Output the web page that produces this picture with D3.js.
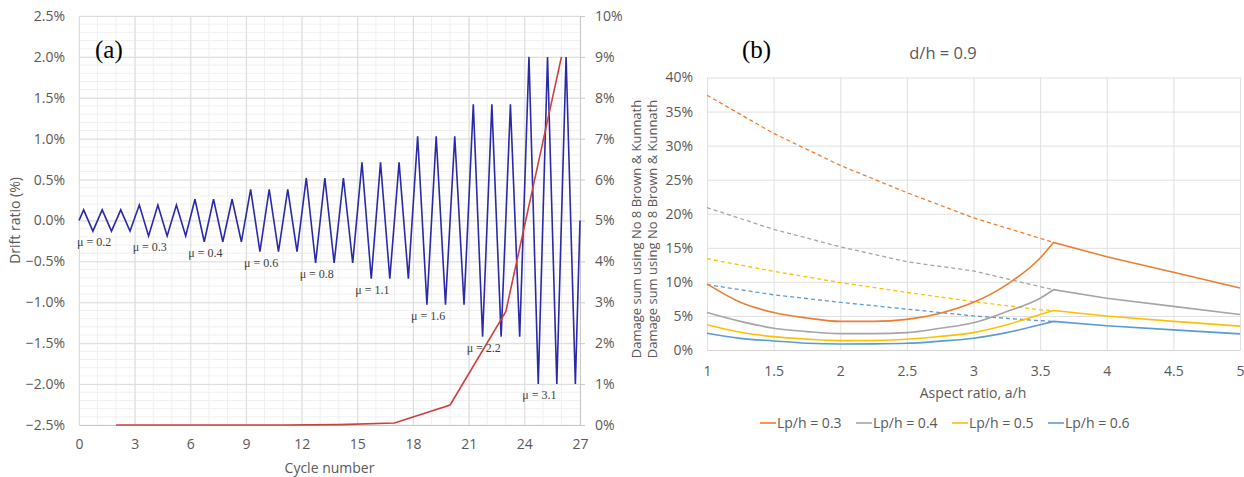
<html>
<head>
<meta charset="utf-8">
<script src="https://d3js.org/d3.v7.min.js"></script>
<style>
  body { margin: 0; background: #fff; }
  svg text { font-family: "Open Sans", sans-serif; }
</style>
</head>
<body>
<svg id="chart" width="1244" height="477"></svg>
<script>

// ---- chart (a): loading protocol ----
const cycleTicks = [0, 3, 6, 9, 12, 15, 18, 21, 24, 27];
const driftTicks = [-2.5, -2, -1.5, -1, -0.5, 0, 0.5, 1, 1.5, 2, 2.5];
const damageTicks = [0, 1, 2, 3, 4, 5, 6, 7, 8, 9, 10];
const muLabels = ["0.2", "0.3", "0.4", "0.6", "0.8", "1.1", "1.6", "2.2", "3.1"];
// drift amplitude (%) of each of the 27 cycles
const cycleAmp = [0.13, 0.13, 0.13, 0.19, 0.19, 0.19, 0.26, 0.26, 0.26,
                  0.38, 0.38, 0.38, 0.52, 0.52, 0.52, 0.71, 0.71, 0.71,
                  1.03, 1.03, 1.03, 1.42, 1.42, 1.42, 2.0, 2.0, 2.0];
// cumulative damage (%) at the end of each level
const damageCycle = [2, 5, 8, 11, 14, 17, 20, 23, 26];
const damageValue = [0, 0, 0, 0, 0.01, 0.05, 0.49, 2.77, 9.0];

// ---- chart (b): damage sum vs aspect ratio ----
const aspectTicks = [1, 1.5, 2, 2.5, 3, 3.5, 4, 4.5, 5];
const damageSumTicks = [0, 5, 10, 15, 20, 25, 30, 35, 40];
const lpLabels = ["Lp/h = 0.3", "Lp/h = 0.4", "Lp/h = 0.5", "Lp/h = 0.6"];
const aspect = [1, 1.25, 1.5, 1.75, 2, 2.25, 2.5, 2.75, 3, 3.25, 3.5, 3.6, 4, 4.5, 5];
const lp03 = [9.7, 7.0, 5.5, 4.7, 4.2, 4.2, 4.5, 5.4, 7.0, 9.6, 13.5, 15.8, 13.7, 11.4, 9.1];
const lp04 = [5.5, 4.2, 3.2, 2.7, 2.4, 2.4, 2.55, 3.2, 4.0, 5.65, 7.6, 8.85, 7.6, 6.4, 5.2];
const lp05 = [3.7, 2.6, 1.96, 1.6, 1.37, 1.4, 1.57, 2.0, 2.55, 3.7, 5.2, 5.8, 5.0, 4.2, 3.5];
const lp06 = [2.45, 1.7, 1.33, 1.0, 0.88, 0.9, 0.98, 1.3, 1.72, 2.55, 3.7, 4.2, 3.55, 2.95, 2.36];
const aspectDash = [1, 1.5, 2, 2.5, 3, 3.5, 3.6];
const lp03d = [37.4, 31.8, 27.1, 23.1, 19.4, 16.4, 15.8];
const lp04d = [20.9, 17.7, 15.15, 12.95, 11.6, 9.3, 8.85];
const lp05d = [13.4, 11.55, 9.9, 8.45, 7.1, 5.9, 5.8];
const lp06d = [9.6, 8.1, 7.0, 6.0, 5.0, 4.3, 4.2];
const peakAspect = 3.6;
const yTitle = "Damage sum using No 8 Brown & Kunnath";

const svg = d3.select("#chart");
const axisGrey = "#595959";

// ================= chart (a) =================
let x = d3.scaleLinear().domain([0, 27]).range([79, 580]);
let y = d3.scaleLinear().domain([-2.5, 2.5]).range([425, 16]);
let y2 = d3.scaleLinear().domain([0, 10]).range([425, 16]);

let ga = svg.append("g");

// minor grid
ga.append("g").selectAll("line")
  .data(d3.range(0, 28))
  .enter().append("line")
  .attr("x1", d => x(d)).attr("x2", d => x(d))
  .attr("y1", y(2.5)).attr("y2", y(-2.5))
  .attr("stroke", "#f0f0f0");
ga.append("g").selectAll("line")
  .data(d3.range(-25, 26).map(d => d / 10))
  .enter().append("line")
  .attr("x1", x(0)).attr("x2", x(27))
  .attr("y1", d => y(d)).attr("y2", d => y(d))
  .attr("stroke", "#f0f0f0");

// major grid
ga.append("g")
  .attr("transform", `translate(0,${y(-2.5)})`)
  .call(d3.axisBottom(x).tickValues(cycleTicks).tickSize(-(y(-2.5) - y(2.5))).tickFormat(""))
  .call(g => g.select(".domain").remove())
  .call(g => g.selectAll("line").attr("stroke", "#dcdcdc"));
ga.append("g")
  .attr("transform", `translate(${x(0)},0)`)
  .call(d3.axisLeft(y).tickValues(driftTicks).tickSize(-(x(27) - x(0))).tickFormat(""))
  .call(g => g.select(".domain").remove())
  .call(g => g.selectAll("line").attr("stroke", "#dcdcdc"));

// x axis
ga.append("g")
  .attr("transform", `translate(0,${y(-2.5)})`)
  .call(d3.axisBottom(x).tickValues(cycleTicks).tickSize(0).tickPadding(14))
  .call(g => g.select(".domain").attr("stroke", "#c8c8c8"))
  .call(g => g.selectAll("text").attr("fill", axisGrey).style("font-size", "14px"));

// left y axis
ga.append("g")
  .attr("transform", `translate(${x(0)},0)`)
  .call(d3.axisLeft(y).tickValues(driftTicks).tickSize(0).tickPadding(14)
    .tickFormat(d => d3.format(".1f")(d) + "%"))
  .call(g => g.select(".domain").attr("stroke", "#dcdcdc"))
  .call(g => g.selectAll("text").attr("fill", axisGrey).style("font-size", "14px"));

// right y axis
ga.append("g")
  .attr("transform", `translate(${x(27)},0)`)
  .call(d3.axisRight(y2).tickValues(damageTicks).tickSize(5).tickPadding(10)
    .tickFormat(d => d + "%"))
  .call(g => g.select(".domain").attr("stroke", "#c8c8c8"))
  .call(g => g.selectAll("line").attr("stroke", "#c8c8c8"))
  .call(g => g.selectAll("text").attr("fill", axisGrey).style("font-size", "14px"));

// drift history
let zig = [[0, 0]];
cycleAmp.forEach((a, i) => {
  zig.push([i + 0.25, a]);
  zig.push([i + 0.75, -a]);
});
zig.push([27, 0]);

ga.append("path")
  .datum(zig)
  .attr("fill", "none")
  .attr("stroke", "#2a2aa8")
  .attr("stroke-width", 1.6)
  .attr("d", d3.line().x(d => x(d[0])).y(d => y(d[1])));

// damage
ga.append("path")
  .datum(damageCycle.map((c, i) => [c, damageValue[i]]))
  .attr("fill", "none")
  .attr("stroke", "#cf3f3f")
  .attr("stroke-width", 1.6)
  .attr("d", d3.line().x(d => x(d[0])).y(d => y2(d[1])));

// mu labels
ga.selectAll(".mu")
  .data(muLabels)
  .enter().append("text")
  .attr("class", "mu")
  .attr("x", (d, i) => x(i * 3) - 2)
  .attr("y", (d, i) => y(-cycleAmp[i * 3]) + 15)
  .attr("fill", "#404040")
  .style("font-family", "'Liberation Serif', serif")
  .style("font-size", "12px")
  .text(d => "\u03bc = " + d);

ga.append("text")
  .attr("x", 95).attr("y", 58)
  .style("font-family", "'Liberation Serif', serif")
  .style("font-size", "25px")
  .attr("fill", "#000")
  .text("(a)");

ga.append("text")
  .attr("transform", `translate(20,${(y(2.5) + y(-2.5)) / 2}) rotate(-90)`)
  .attr("text-anchor", "middle")
  .attr("fill", axisGrey)
  .style("font-size", "14px")
  .text("Drift ratio (%)");

ga.append("text")
  .attr("x", (x(0) + x(27)) / 2).attr("y", 473)
  .attr("text-anchor", "middle")
  .attr("fill", axisGrey)
  .style("font-size", "14px")
  .text("Cycle number");

// ================= chart (b) =================
let xb = d3.scaleLinear().domain([1, 5]).range([707, 1240]);
let yb = d3.scaleLinear().domain([0, 40]).range([350, 77.5]);

let gb = svg.append("g");

gb.append("g")
  .attr("transform", `translate(0,${yb(0)})`)
  .call(d3.axisBottom(xb).tickValues(aspectTicks).tickSize(-(yb(0) - yb(40))).tickFormat(""))
  .call(g => g.select(".domain").remove())
  .call(g => g.selectAll("line").attr("stroke", "#e0e0e0"));
gb.append("g")
  .attr("transform", `translate(${xb(1)},0)`)
  .call(d3.axisLeft(yb).tickValues(damageSumTicks).tickSize(-(xb(5) - xb(1))).tickFormat(""))
  .call(g => g.select(".domain").remove())
  .call(g => g.selectAll("line").attr("stroke", "#e0e0e0"));

gb.append("g")
  .attr("transform", `translate(0,${yb(0)})`)
  .call(d3.axisBottom(xb).tickValues(aspectTicks).tickSize(0).tickPadding(16).tickFormat(d3.format("")))
  .call(g => g.select(".domain").attr("stroke", "#d4d4d4"))
  .call(g => g.selectAll("text").attr("fill", axisGrey).style("font-size", "14px"));

gb.append("g")
  .attr("transform", `translate(${xb(1)},0)`)
  .call(d3.axisLeft(yb).tickValues(damageSumTicks).tickSize(0).tickPadding(14).tickFormat(d => d + "%"))
  .call(g => g.select(".domain").remove())
  .call(g => g.selectAll("text").attr("fill", axisGrey).style("font-size", "14px"));

const colors = ["#ed7d31", "#a5a5a5", "#ffc000", "#5b9bd5"];
const solid = [lp03, lp04, lp05, lp06];
const dashed = [lp03d, lp04d, lp05d, lp06d];

let lineLin = d3.line().x(d => xb(d[0])).y(d => yb(d[1]));
let lineSmooth = d3.line().x(d => xb(d[0])).y(d => yb(d[1])).curve(d3.curveMonotoneX);

dashed.forEach((s, k) => {
  gb.append("path")
    .datum(aspectDash.map((a, i) => [a, s[i]]))
    .attr("fill", "none")
    .attr("stroke", colors[k])
    .attr("stroke-width", 1.3)
    .attr("stroke-dasharray", "4,3")
    .attr("d", lineLin);
});
solid.forEach((s, k) => {
  let pts = aspect.map((a, i) => [a, s[i]]);
  // smooth rise up to the peak, straight fall after it
  let d = lineSmooth(pts.filter(p => p[0] <= peakAspect)) +
          lineLin(pts.filter(p => p[0] >= peakAspect)).replace(/^M/, "L");
  gb.append("path")
    .attr("fill", "none")
    .attr("stroke", colors[k])
    .attr("stroke-width", 1.6)
    .attr("d", d);
});

gb.append("text")
  .attr("x", 742).attr("y", 58)
  .style("font-family", "'Liberation Serif', serif")
  .style("font-size", "25px")
  .attr("fill", "#000")
  .text("(b)");

gb.append("text")
  .attr("x", 943).attr("y", 59)
  .attr("text-anchor", "middle")
  .attr("fill", axisGrey)
  .style("font-size", "16.5px")
  .text("d/h = 0.9");

// the title is printed twice in the original
[0, 1].forEach(i => {
  gb.append("text")
    .attr("transform", `translate(${641 + i * 16},229) rotate(-90)`)
    .attr("text-anchor", "middle")
    .attr("fill", axisGrey)
    .style("font-size", "13px")
    .text(yTitle);
});

gb.append("text")
  .attr("x", 973).attr("y", 398)
  .attr("text-anchor", "middle")
  .attr("fill", axisGrey)
  .style("font-size", "14px")
  .text("Aspect ratio, a/h");

let legend = gb.selectAll(".lg")
  .data(lpLabels)
  .enter().append("g")
  .attr("class", "lg")
  .attr("transform", (d, i) => `translate(${760 + i * 96},423)`);
legend.append("line")
  .attr("x1", 0).attr("x2", 16)
  .attr("stroke", (d, i) => colors[i])
  .attr("stroke-width", 1.6);
legend.append("text")
  .attr("x", 17).attr("dy", "0.35em")
  .attr("fill", axisGrey)
  .style("font-size", "14px")
  .text(d => d);

</script>
</body>
</html>
